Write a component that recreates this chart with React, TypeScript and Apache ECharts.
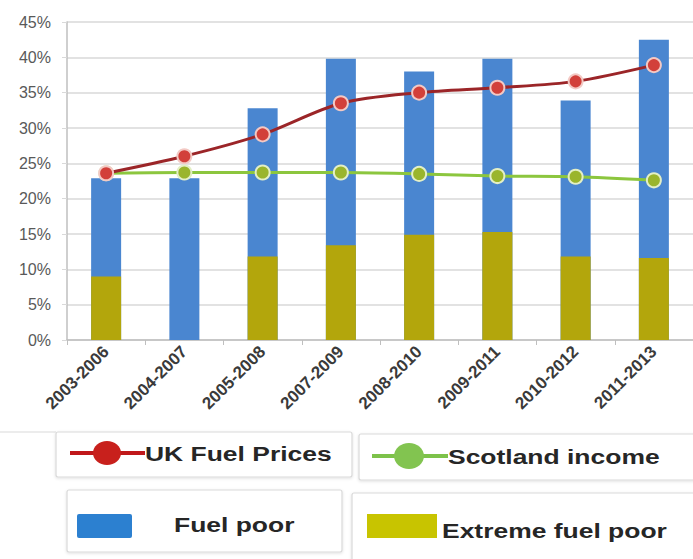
import React, { useEffect, useRef } from "react";
import * as echarts from "echarts";

const categories = ["2003-2006", "2004-2007", "2005-2008", "2007-2009", "2008-2010", "2009-2011", "2010-2012", "2011-2013"];
const fuelPoor = [22.9, 22.9, 32.8, 39.8, 38.0, 39.8, 33.9, 42.5];
const extremeFuelPoor = [9.0, 0, 11.8, 13.4, 14.9, 15.3, 11.8, 11.6];
const ukFuelPrices = [23.6, 26.0, 29.1, 33.5, 35.0, 35.7, 36.6, 38.9];
const scotlandIncome = [23.6, 23.7, 23.7, 23.7, 23.5, 23.2, 23.1, 22.6];
const yTicks = { min: 0, max: 45, interval: 5 };
const legendNames = { uk: "UK Fuel Prices", scot: "Scotland income", fp: "Fuel poor", efp: "Extreme fuel poor" };

const FONT = "'Liberation Sans', Arial, sans-serif";
const SX = 1.26;

export default function App() {
  const ref = useRef<HTMLDivElement>(null);
  useEffect(() => {
    if (!ref.current) return;
    const chart = echarts.init(ref.current, null, { renderer: "svg" });
    const legendText = (text: string, x: number, y: number) => ({
      type: "text",
      x,
      y,
      scaleX: SX,
      style: { text, fill: "#262626", font: `bold 21px ${FONT}`, textVerticalAlign: "middle", verticalAlign: "middle" },
      z: 10,
    });
    const box = (x: number, y: number, w: number, h: number) => ({
      type: "rect",
      shape: { x, y, width: w, height: h, r: 2 },
      style: { fill: "#ffffff", stroke: "#d9d9d9", lineWidth: 1.2, shadowBlur: 3, shadowColor: "rgba(0,0,0,0.12)", shadowOffsetY: 1 },
      z: 5,
    });
    chart.setOption({
      animation: false,
      backgroundColor: "#ffffff",
      grid: { left: 67, top: 22, bottom: 219, right: -7, containLabel: false },
      xAxis: {
        type: "category",
        data: categories,
        axisLine: { show: true, lineStyle: { color: "#bfbfbf", width: 1.5 } },
        axisTick: { show: true, length: 5, lineStyle: { color: "#bfbfbf" } },
        axisLabel: { rotate: 45, margin: 9, color: "#3a3a3a", fontSize: 17, fontWeight: "bold", fontFamily: FONT, interval: 0 },
      },
      yAxis: {
        type: "value",
        min: yTicks.min,
        max: yTicks.max,
        interval: yTicks.interval,
        axisLine: { show: true, lineStyle: { color: "#bfbfbf", width: 1.5 } },
        axisTick: { show: true, length: 5, lineStyle: { color: "#d9d9d9" } },
        splitLine: { lineStyle: { color: "#d9d9d9", width: 1.5 } },
        axisLabel: { formatter: "{value}%", color: "#595959", fontSize: 16, fontFamily: FONT, margin: 16 },
      },
      series: [
        {
          name: legendNames.fp,
          type: "bar",
          data: fuelPoor,
          barWidth: 30,
          itemStyle: { color: "#4a86d0" },
          z: 2,
        },
        {
          name: legendNames.efp,
          type: "bar",
          data: extremeFuelPoor,
          barWidth: 30,
          barGap: "-100%",
          itemStyle: { color: "#b3a60c" },
          z: 3,
        },
        {
          name: legendNames.uk,
          type: "line",
          data: ukFuelPrices,
          smooth: 0.3,
          symbol: "circle",
          symbolSize: 14,
          lineStyle: { color: "#9b2528", width: 3 },
          itemStyle: { color: "#d2403a", borderColor: "#f3c9c4", borderWidth: 2 },
          z: 5,
        },
        {
          name: legendNames.scot,
          type: "line",
          data: scotlandIncome,
          smooth: 0.3,
          symbol: "circle",
          symbolSize: 14,
          lineStyle: { color: "#8cc63e", width: 3 },
          itemStyle: { color: "#9ab52c", borderColor: "#e3efc6", borderWidth: 2 },
          z: 4,
        },
      ],
      graphic: [
        { type: "line", shape: { x1: 0, y1: 432, x2: 56, y2: 432 }, style: { stroke: "#d9d9d9", lineWidth: 1 }, z: 4 },
        box(56, 432, 296, 45),
        box(359, 434, 336, 46),
        box(67, 490, 275, 62),
        box(352, 493, 348, 70),
        { type: "line", shape: { x1: 70, y1: 453, x2: 145, y2: 453 }, style: { stroke: "#c0181a", lineWidth: 4 }, z: 10 },
        { type: "ellipse", shape: { cx: 107, cy: 453, rx: 14, ry: 12 }, style: { fill: "#c8201c" }, z: 11 },
        legendText(legendNames.uk, 145, 454),
        { type: "line", shape: { x1: 372, y1: 456, x2: 448, y2: 456 }, style: { stroke: "#7dc24a", lineWidth: 4 }, z: 10 },
        { type: "ellipse", shape: { cx: 409, cy: 456, rx: 15, ry: 13 }, style: { fill: "#82c450" }, z: 11 },
        legendText(legendNames.scot, 448, 457),
        { type: "rect", shape: { x: 77, y: 514, width: 55, height: 24, r: 2 }, style: { fill: "#2c80d0" }, z: 10 },
        legendText(legendNames.fp, 174, 525),
        { type: "rect", shape: { x: 367, y: 514, width: 70, height: 24 }, style: { fill: "#c8c400" }, z: 10 },
        legendText(legendNames.efp, 442, 531),
      ],
    });
    return () => chart.dispose();
  }, []);
  return <div ref={ref} style={{ position: "fixed", left: 0, top: 0, width: 693, height: 559, background: "#fff" }} />;
}
